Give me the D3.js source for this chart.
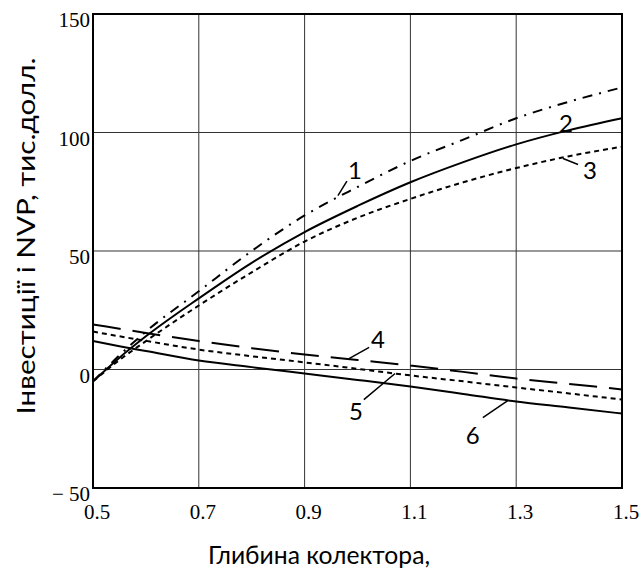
<!DOCTYPE html>
<html>
<head>
<meta charset="utf-8">
<script src="https://cdn.jsdelivr.net/npm/d3@7"></script>
<style>
  body { margin: 0; background: #fff; }
</style>
</head>
<body>
<div id="visualization"></div>
<script>
// Depth values (x) shared by every curve
const depth = [0.5, 0.55, 0.6, 0.7, 0.8, 0.9, 1.0, 1.1, 1.2, 1.3, 1.4, 1.5];

// Investment / NVP curves, thousand dollars
const curve1 = [-5, 6, 16, 33, 50, 65, 77, 88, 97, 106, 113, 119];
const curve2 = [-5, 5, 14, 30, 45, 58, 69, 79, 87.5, 95, 101, 106];
const curve3 = [-5, 4, 12, 27, 41, 54, 64, 72, 79, 85, 90, 94];
const curve4 = [19, 17.2, 15.4, 12, 9, 6.3, 4, 1.7, -1, -3.8, -6.1, -8.4];
const curve5 = [16, 14, 12.1, 8.4, 5.6, 3, 0.3, -2.5, -5, -7.6, -10.1, -12.7];
const curve6 = [12, 9.8, 7.8, 3.8, 1, -1.7, -4.4, -7.2, -10.3, -13.5, -16, -18.6];

const xTicks = [0.5, 0.7, 0.9, 1.1, 1.3, 1.5];
const yTicks = [-50, 0, 50, 100, 150];
const yTickLabels = ['\u2212 50', '0', '50', '100', '150'];

const curveNames = ['1', '2', '3', '4', '5', '6'];
// label position [x, y] and optional leader line [x1, y1, x2, y2], in data units
const labelPos = [[0.995, 80.2], [1.394, 100.4], [1.4395, 80.2], [1.0388, 8.9], [0.997, -21.1], [1.218, -31.6]];
const leaders = [
  [0.963, 73.4, 0.980, 79.5],
  null,
  [1.3885, 89.0, 1.4169, 86.5],
  [0.984, 4.6, 1.022, 9.3],
  [1.012, -12.7, 1.071, -1.7],
  [1.237, -20.3, 1.284, -13.1]
];

const width = 644;
const height = 573;
const plot = { left: 93, right: 622, top: 14, bottom: 488 };

const svg = d3.select('#visualization')
  .append('svg')
  .attr('width', width)
  .attr('height', height);

const x = d3.scaleLinear().domain([0.5, 1.5]).range([plot.left, plot.right]);
const y = d3.scaleLinear().domain([-50, 150]).range([plot.bottom, plot.top]);

// grid
svg.append('g')
  .selectAll('line')
  .data(xTicks.slice(1, -1))
  .enter()
  .append('line')
  .attr('x1', d => x(d)).attr('x2', d => x(d))
  .attr('y1', plot.top).attr('y2', plot.bottom)
  .attr('stroke', '#333').attr('stroke-width', 1);

svg.append('g')
  .selectAll('line')
  .data(yTicks.slice(1, -1))
  .enter()
  .append('line')
  .attr('x1', plot.left).attr('x2', plot.right)
  .attr('y1', d => y(d)).attr('y2', d => y(d))
  .attr('stroke', '#333').attr('stroke-width', 1);

// curves
const series = [
  { values: curve1, dash: '10,7,2,7' },
  { values: curve2, dash: null },
  { values: curve3, dash: '5,4' },
  { values: curve4, dash: '28,12' },
  { values: curve5, dash: '5,4' },
  { values: curve6, dash: null }
];

const line = d3.line()
  .x((d, i) => x(depth[i]))
  .y(d => y(d))
  .curve(d3.curveMonotoneX);

svg.append('g')
  .selectAll('path')
  .data(series)
  .enter()
  .append('path')
  .attr('d', d => line(d.values))
  .attr('fill', 'none')
  .attr('stroke', '#000')
  .attr('stroke-width', 2)
  .attr('stroke-dasharray', d => d.dash);

// frame
svg.append('rect')
  .attr('x', plot.left).attr('y', plot.top)
  .attr('width', plot.right - plot.left)
  .attr('height', plot.bottom - plot.top)
  .attr('fill', 'none')
  .attr('stroke', '#000')
  .attr('stroke-width', 2);

// tick labels
svg.append('g')
  .selectAll('text')
  .data(yTicks)
  .enter()
  .append('text')
  .attr('x', 90)
  .attr('y', d => y(d) + 13)
  .attr('text-anchor', 'end')
  .style('font-family', '"Liberation Serif", "Times New Roman", serif')
  .style('font-size', '21px')
  .text((d, i) => yTickLabels[i]);

svg.append('g')
  .selectAll('text')
  .data(xTicks)
  .enter()
  .append('text')
  .attr('x', d => x(d) + 4)
  .attr('y', 519)
  .attr('text-anchor', 'middle')
  .style('font-family', '"Liberation Serif", "Times New Roman", serif')
  .style('font-size', '21px')
  .text(d => d.toFixed(1));

// curve labels and leaders
svg.append('g')
  .selectAll('line')
  .data(leaders.filter(d => d))
  .enter()
  .append('line')
  .attr('x1', d => x(d[0])).attr('y1', d => y(d[1]))
  .attr('x2', d => x(d[2])).attr('y2', d => y(d[3]))
  .attr('stroke', '#000').attr('stroke-width', 1.5);

svg.append('g')
  .selectAll('text')
  .data(curveNames)
  .enter()
  .append('text')
  .attr('x', (d, i) => x(labelPos[i][0]))
  .attr('y', (d, i) => y(labelPos[i][1]))
  .attr('text-anchor', 'middle')
  .style('font-family', 'Lato, "Open Sans", sans-serif')
  .style('font-size', '24px')
  .text(d => d);

// axis titles
svg.append('text')
  .attr('transform', 'translate(35,236) rotate(-90)')
  .attr('text-anchor', 'middle')
  .attr('textLength', 357)
  .attr('lengthAdjust', 'spacingAndGlyphs')
  .style('font-family', 'Lato, "Open Sans", sans-serif')
  .style('font-size', '25px')
  .text('Інвестиції і NVP, тис.долл.');

svg.append('text')
  .attr('x', 319)
  .attr('y', 564)
  .attr('text-anchor', 'middle')
  .attr('textLength', 222)
  .attr('lengthAdjust', 'spacingAndGlyphs')
  .style('font-family', 'Lato, "Open Sans", sans-serif')
  .style('font-size', '25px')
  .text('Глибина колектора,');
</script>
</body>
</html>
